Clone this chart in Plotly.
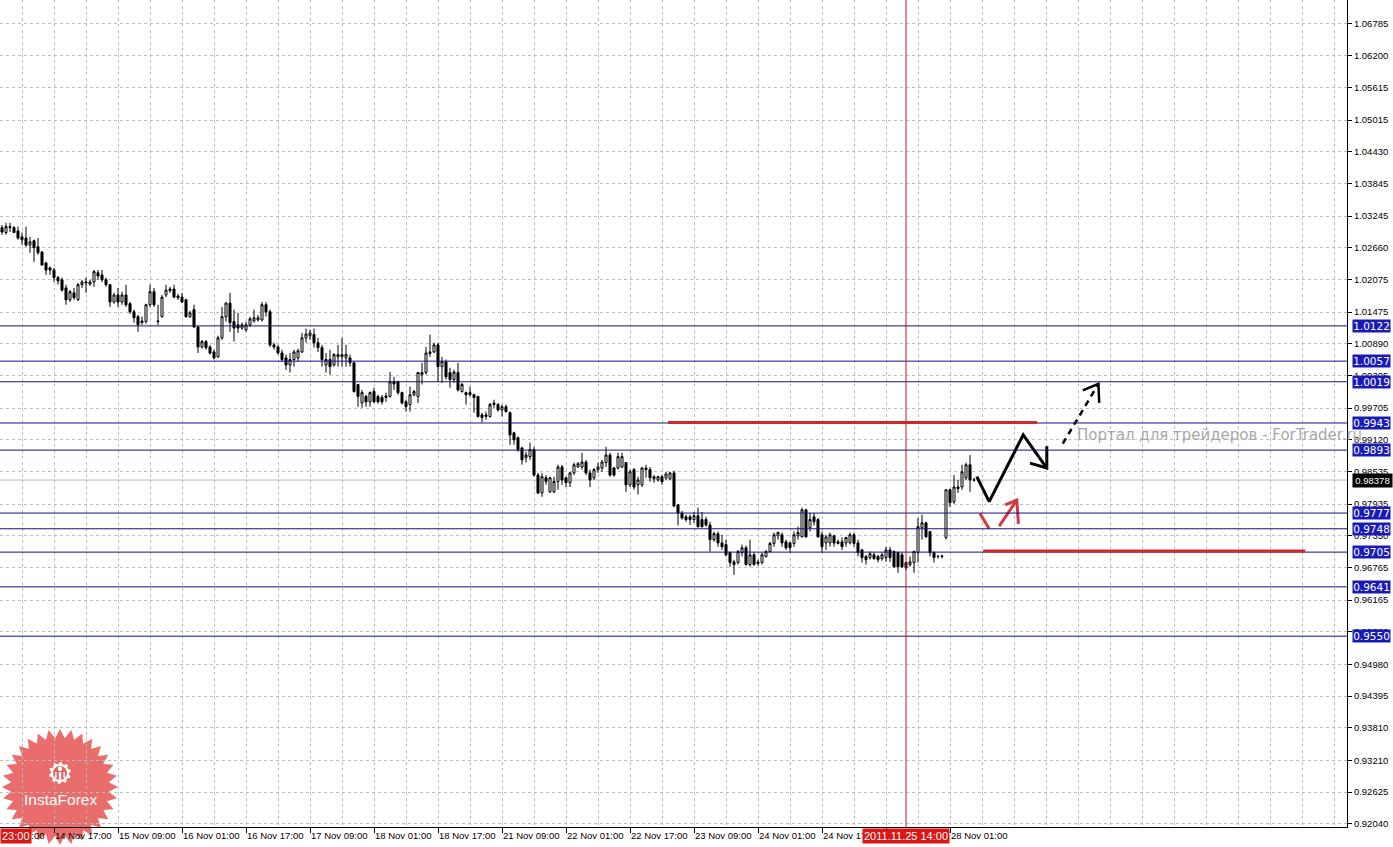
import math
import plotly.graph_objects as go

# ---------------- data (hourly bars, index 0 = first visible bar) ----------------
opens = [
    1.0303, 1.0294, 1.0305, 1.0303, 1.0297, 1.0286, 1.0284, 1.0271, 1.0279, 1.0268,
    1.0258, 1.0238, 1.0229, 1.0225, 1.0211, 1.0207, 1.0192, 1.0170, 1.0183, 1.0170,
    1.0198, 1.0201, 1.0199, 1.0203, 1.0220, 1.0216, 1.0207, 1.0198, 1.0166, 1.0179,
    1.0166, 1.0179, 1.0163, 1.0148, 1.0139, 1.0128, 1.0130, 1.0161, 1.0185, 1.0130,
    1.0139, 1.0179, 1.0187, 1.0190, 1.0177, 1.0175, 1.0170, 1.0139, 1.0152, 1.0120,
    1.0083, 1.0093, 1.0083, 1.0074, 1.0065, 1.0100, 1.0139, 1.0164, 1.0130, 1.0124,
    1.0118, 1.0115, 1.0124, 1.0131, 1.0133, 1.0133, 1.0161, 1.0148, 1.0087, 1.0083,
    1.0072, 1.0063, 1.0050, 1.0060, 1.0063, 1.0074, 1.0100, 1.0104, 1.0106, 1.0091,
    1.0082, 1.0050, 1.0060, 1.0050, 1.0065, 1.0065, 1.0063, 1.0063, 1.0054, 1.0014,
    0.9980, 0.9992, 0.9982, 1.0001, 0.9992, 0.9990, 0.9990, 0.9992, 1.0019, 1.0019,
    0.9999, 0.9982, 0.9977, 0.9995, 0.9992, 1.0032, 1.0036, 1.0071, 1.0074, 1.0087,
    1.0047, 1.0056, 1.0036, 1.0023, 1.0036, 1.0001, 0.9999, 0.9995, 0.9995, 0.9992,
    0.9958, 0.9955, 0.9955, 0.9980, 0.9977, 0.9967, 0.9973, 0.9962, 0.9925, 0.9916,
    0.9897, 0.9879, 0.9881, 0.9894, 0.9847, 0.9814, 0.9842, 0.9816, 0.9816, 0.9835,
    0.9862, 0.9842, 0.9833, 0.9851, 0.9862, 0.9862, 0.9871, 0.9851, 0.9842, 0.9857,
    0.9860, 0.9870, 0.9884, 0.9860, 0.9860, 0.9862, 0.9870, 0.9829, 0.9857, 0.9829,
    0.9829, 0.9857, 0.9857, 0.9840, 0.9838, 0.9844, 0.9842, 0.9840, 0.9851, 0.9792,
    0.9777, 0.9770, 0.9770, 0.9765, 0.9772, 0.9765, 0.9765, 0.9755, 0.9728, 0.9739,
    0.9722, 0.9719, 0.9704, 0.9687, 0.9686, 0.9704, 0.9713, 0.9682, 0.9700, 0.9687,
    0.9686, 0.9697, 0.9706, 0.9721, 0.9735, 0.9737, 0.9724, 0.9722, 0.9721, 0.9735,
    0.9733, 0.9783, 0.9750, 0.9770, 0.9765, 0.9737, 0.9722, 0.9722, 0.9735, 0.9724,
    0.9724, 0.9722, 0.9722, 0.9737, 0.9722, 0.9709, 0.9697, 0.9695, 0.9700, 0.9697,
    0.9693, 0.9695, 0.9709, 0.9706, 0.9704, 0.9700, 0.9686, 0.9682, 0.9686, 0.9704,
    0.9750, 0.9759, 0.9743, 0.9704, 0.9697, 0.9697, 0.9732, 0.9820, 0.9798, 0.9825,
    0.9825, 0.9842, 0.9866, 0.9838,
]
highs = [
    1.0308, 1.0312, 1.0312, 1.0306, 1.0305, 1.0294, 1.0305, 1.0286, 1.0281, 1.0284,
    1.0260, 1.0240, 1.0231, 1.0229, 1.0214, 1.0211, 1.0198, 1.0188, 1.0192, 1.0201,
    1.0207, 1.0211, 1.0207, 1.0225, 1.0225, 1.0225, 1.0211, 1.0199, 1.0183, 1.0192,
    1.0185, 1.0198, 1.0166, 1.0152, 1.0142, 1.0139, 1.0163, 1.0198, 1.0192, 1.0161,
    1.0179, 1.0198, 1.0194, 1.0198, 1.0181, 1.0183, 1.0172, 1.0150, 1.0161, 1.0122,
    1.0096, 1.0096, 1.0087, 1.0078, 1.0104, 1.0157, 1.0166, 1.0183, 1.0152, 1.0146,
    1.0128, 1.0130, 1.0139, 1.0152, 1.0142, 1.0166, 1.0166, 1.0152, 1.0091, 1.0087,
    1.0078, 1.0069, 1.0072, 1.0078, 1.0080, 1.0109, 1.0117, 1.0115, 1.0117, 1.0100,
    1.0087, 1.0072, 1.0078, 1.0072, 1.0087, 1.0100, 1.0087, 1.0069, 1.0056, 1.0014,
    1.0004, 0.9995, 1.0001, 1.0008, 0.9995, 0.9995, 0.9999, 1.0037, 1.0028, 1.0021,
    1.0001, 0.9986, 1.0010, 1.0004, 1.0037, 1.0054, 1.0083, 1.0106, 1.0091, 1.0091,
    1.0065, 1.0060, 1.0045, 1.0041, 1.0054, 1.0017, 1.0001, 1.0010, 0.9997, 0.9993,
    0.9962, 0.9964, 0.9980, 0.9986, 0.9980, 0.9977, 0.9977, 0.9964, 0.9927, 0.9918,
    0.9899, 0.9890, 0.9907, 0.9899, 0.9851, 0.9851, 0.9847, 0.9844, 0.9844, 0.9866,
    0.9866, 0.9844, 0.9853, 0.9870, 0.9871, 0.9888, 0.9875, 0.9857, 0.9860, 0.9870,
    0.9875, 0.9899, 0.9888, 0.9862, 0.9888, 0.9888, 0.9871, 0.9857, 0.9860, 0.9844,
    0.9862, 0.9866, 0.9862, 0.9847, 0.9846, 0.9847, 0.9853, 0.9853, 0.9855, 0.9794,
    0.9781, 0.9774, 0.9774, 0.9779, 0.9787, 0.9779, 0.9770, 0.9761, 0.9743, 0.9743,
    0.9737, 0.9728, 0.9706, 0.9691, 0.9709, 0.9719, 0.9717, 0.9728, 0.9704, 0.9691,
    0.9704, 0.9709, 0.9724, 0.9741, 0.9743, 0.9741, 0.9728, 0.9724, 0.9743, 0.9752,
    0.9787, 0.9785, 0.9777, 0.9777, 0.9768, 0.9743, 0.9737, 0.9741, 0.9737, 0.9728,
    0.9732, 0.9733, 0.9741, 0.9741, 0.9728, 0.9711, 0.9700, 0.9706, 0.9704, 0.9700,
    0.9704, 0.9715, 0.9715, 0.9708, 0.9706, 0.9704, 0.9687, 0.9697, 0.9708, 0.9768,
    0.9774, 0.9761, 0.9744, 0.9706, 0.9700, 0.9700, 0.9820, 0.9822, 0.9847, 0.9838,
    0.9866, 0.9870, 0.9884, 0.9842,
]
lows = [
    1.0290, 1.0290, 1.0295, 1.0294, 1.0281, 1.0271, 1.0268, 1.0257, 1.0240, 1.0253,
    1.0234, 1.0216, 1.0216, 1.0203, 1.0198, 1.0185, 1.0161, 1.0166, 1.0170, 1.0168,
    1.0192, 1.0183, 1.0196, 1.0194, 1.0207, 1.0203, 1.0194, 1.0157, 1.0163, 1.0157,
    1.0161, 1.0157, 1.0144, 1.0128, 1.0111, 1.0124, 1.0126, 1.0157, 1.0157, 1.0124,
    1.0137, 1.0175, 1.0183, 1.0174, 1.0170, 1.0164, 1.0137, 1.0137, 1.0118, 1.0072,
    1.0080, 1.0078, 1.0069, 1.0060, 1.0063, 1.0096, 1.0130, 1.0111, 1.0093, 1.0109,
    1.0115, 1.0111, 1.0120, 1.0128, 1.0130, 1.0130, 1.0139, 1.0083, 1.0078, 1.0069,
    1.0056, 1.0041, 1.0036, 1.0047, 1.0056, 1.0072, 1.0091, 1.0096, 1.0082, 1.0074,
    1.0047, 1.0036, 1.0032, 1.0047, 1.0047, 1.0047, 1.0047, 1.0047, 0.9999, 0.9973,
    0.9971, 0.9973, 0.9973, 0.9980, 0.9979, 0.9977, 0.9982, 0.9990, 1.0004, 0.9995,
    0.9977, 0.9964, 0.9964, 0.9992, 0.9980, 1.0014, 1.0032, 1.0065, 1.0072, 1.0019,
    1.0017, 1.0023, 1.0008, 1.0017, 1.0001, 0.9999, 0.9977, 0.9992, 0.9962, 0.9953,
    0.9944, 0.9949, 0.9953, 0.9971, 0.9964, 0.9955, 0.9962, 0.9903, 0.9903, 0.9890,
    0.9866, 0.9870, 0.9875, 0.9844, 0.9812, 0.9807, 0.9829, 0.9814, 0.9814, 0.9820,
    0.9829, 0.9825, 0.9825, 0.9847, 0.9860, 0.9857, 0.9847, 0.9825, 0.9838, 0.9851,
    0.9853, 0.9862, 0.9844, 0.9844, 0.9857, 0.9860, 0.9816, 0.9825, 0.9820, 0.9811,
    0.9825, 0.9842, 0.9835, 0.9833, 0.9835, 0.9829, 0.9838, 0.9838, 0.9788, 0.9754,
    0.9765, 0.9761, 0.9755, 0.9759, 0.9750, 0.9750, 0.9752, 0.9706, 0.9724, 0.9715,
    0.9709, 0.9697, 0.9678, 0.9663, 0.9682, 0.9697, 0.9680, 0.9678, 0.9680, 0.9680,
    0.9682, 0.9695, 0.9704, 0.9715, 0.9728, 0.9715, 0.9709, 0.9704, 0.9715, 0.9728,
    0.9732, 0.9732, 0.9743, 0.9754, 0.9732, 0.9704, 0.9709, 0.9715, 0.9715, 0.9719,
    0.9709, 0.9715, 0.9719, 0.9715, 0.9697, 0.9686, 0.9682, 0.9691, 0.9691, 0.9686,
    0.9689, 0.9687, 0.9687, 0.9676, 0.9667, 0.9676, 0.9672, 0.9678, 0.9667, 0.9686,
    0.9728, 0.9732, 0.9697, 0.9686, 0.9693, 0.9693, 0.9728, 0.9788, 0.9794, 0.9814,
    0.9820, 0.9838, 0.9816, 0.9835,
]
closes = [
    1.0295, 1.0305, 1.0303, 1.0294, 1.0284, 1.0281, 1.0271, 1.0277, 1.0266, 1.0257,
    1.0234, 1.0225, 1.0225, 1.0211, 1.0205, 1.0188, 1.0170, 1.0185, 1.0174, 1.0198,
    1.0203, 1.0203, 1.0203, 1.0222, 1.0214, 1.0207, 1.0198, 1.0166, 1.0179, 1.0166,
    1.0179, 1.0161, 1.0148, 1.0137, 1.0124, 1.0131, 1.0161, 1.0185, 1.0161, 1.0131,
    1.0175, 1.0188, 1.0190, 1.0175, 1.0174, 1.0166, 1.0139, 1.0146, 1.0120, 1.0083,
    1.0093, 1.0082, 1.0072, 1.0063, 1.0100, 1.0139, 1.0164, 1.0128, 1.0118, 1.0118,
    1.0124, 1.0124, 1.0135, 1.0137, 1.0137, 1.0161, 1.0148, 1.0087, 1.0083, 1.0072,
    1.0060, 1.0050, 1.0060, 1.0074, 1.0076, 1.0100, 1.0107, 1.0109, 1.0091, 1.0082,
    1.0060, 1.0060, 1.0047, 1.0069, 1.0069, 1.0069, 1.0069, 1.0054, 1.0001, 0.9992,
    0.9999, 0.9982, 0.9999, 0.9982, 0.9982, 0.9982, 0.9993, 1.0019, 1.0015, 0.9999,
    0.9980, 0.9973, 0.9995, 1.0001, 1.0036, 1.0036, 1.0072, 1.0074, 1.0087, 1.0047,
    1.0056, 1.0028, 1.0023, 1.0037, 1.0004, 1.0014, 0.9995, 0.9999, 0.9990, 0.9955,
    0.9953, 0.9958, 0.9977, 0.9977, 0.9967, 0.9973, 0.9964, 0.9921, 0.9912, 0.9894,
    0.9875, 0.9884, 0.9894, 0.9847, 0.9814, 0.9844, 0.9835, 0.9842, 0.9835, 0.9862,
    0.9838, 0.9833, 0.9851, 0.9866, 0.9868, 0.9871, 0.9851, 0.9838, 0.9857, 0.9862,
    0.9871, 0.9884, 0.9847, 0.9847, 0.9881, 0.9881, 0.9829, 0.9853, 0.9825, 0.9838,
    0.9860, 0.9860, 0.9842, 0.9844, 0.9844, 0.9835, 0.9849, 0.9851, 0.9790, 0.9777,
    0.9768, 0.9765, 0.9765, 0.9772, 0.9752, 0.9752, 0.9755, 0.9728, 0.9739, 0.9722,
    0.9715, 0.9700, 0.9686, 0.9682, 0.9706, 0.9713, 0.9682, 0.9700, 0.9682, 0.9684,
    0.9700, 0.9706, 0.9721, 0.9737, 0.9741, 0.9722, 0.9713, 0.9713, 0.9737, 0.9741,
    0.9783, 0.9733, 0.9765, 0.9761, 0.9733, 0.9715, 0.9733, 0.9737, 0.9722, 0.9721,
    0.9715, 0.9732, 0.9737, 0.9721, 0.9704, 0.9695, 0.9691, 0.9702, 0.9693, 0.9691,
    0.9700, 0.9709, 0.9695, 0.9678, 0.9678, 0.9678, 0.9676, 0.9687, 0.9706, 0.9752,
    0.9759, 0.9733, 0.9704, 0.9695, 0.9697, 0.9698, 0.9820, 0.9796, 0.9825, 0.9822,
    0.9853, 0.9866, 0.9838, 0.9838,
]
bars = list(range(len(opens)))

x_tick_pos = [13, 29, 45, 61, 77, 93, 109, 125, 141, 157, 173, 189, 205, 221, 237]
x_tick_labels = ["14 Nov 17:00", "15 Nov 09:00", "16 Nov 01:00", "16 Nov 17:00",
                 "17 Nov 09:00", "18 Nov 01:00", "18 Nov 17:00", "21 Nov 09:00",
                 "22 Nov 01:00", "22 Nov 17:00", "23 Nov 09:00", "24 Nov 01:00",
                 "24 Nov 17:00", "25 Nov 09:00", "28 Nov 01:00"]
y_ticks = [1.06785, 1.06200, 1.05615, 1.05015, 1.04430, 1.03845, 1.03245, 1.02660,
           1.02075, 1.01475, 1.00890, 1.00305, 0.99705, 0.99120, 0.98535, 0.97935,
           0.97350, 0.96765, 0.96165, 0.95580, 0.94980, 0.94395, 0.93810, 0.93210,
           0.92625, 0.92040]
levels = [1.0122, 1.0057, 1.0019, 0.9943, 0.9893, 0.9777, 0.9748, 0.9705, 0.9641, 0.9550]
last_price = 0.98378
marker_bar = 226
marker_label = "2011.11.25 14:00"
red_level_bars = [(166.5, 258.8), (245.3, 325.8)]
red_level_prices = [0.9944, 0.9707]

# forecast drawings (bar index, price)
zig_x = [243.7, 246.8, 255.3, 261.2]
zig_y = [0.9844, 0.9798, 0.9921, 0.9860]
zig_head_x = [257.0, 261.2, 261.2]
zig_head_y = [0.9869, 0.9860, 0.9900]
dash_x = [265.2, 274.1]
dash_y = [0.9905, 1.0015]
dash_head_x = [270.2, 274.1, 274.3]
dash_head_y = [1.0003, 1.0015, 0.9980]
red1_x = [244.5, 246.8]
red1_y = [0.9776, 0.9748]
red2_x = [249.3, 253.7]
red2_y = [0.9753, 0.9801]
red2_head_x = [250.8, 253.7, 254.1]
red2_head_y = [0.9792, 0.9801, 0.9757]

# ---------------- figure ----------------
W, H = 1393, 847
ML, MR, MT, MB = 0, 46, 0, 20
PW, PH = W - ML - MR, H - MT - MB
GRID = "#BEBEBE"
NAVY = "#121278"
LABEL_BLUE = "#1A1AB8"
RED = "#CF2A2A"

fig = go.Figure()
fig.add_trace(go.Candlestick(
    x=bars, open=opens, high=highs, low=lows, close=closes,
    increasing=dict(line=dict(color="black", width=1), fillcolor="white"),
    decreasing=dict(line=dict(color="black", width=1), fillcolor="black"),
    whiskerwidth=0, showlegend=False, hoverinfo="skip"))

def add_line(xs, ys, color, width, dash="solid"):
    fig.add_trace(go.Scatter(x=xs, y=ys, mode="lines", showlegend=False, hoverinfo="skip",
                             line=dict(color=color, width=width, dash=dash)))

add_line(zig_x, zig_y, "black", 3)
add_line(zig_head_x, zig_head_y, "black", 3)
add_line(dash_x, dash_y, "black", 2.5, "6px,5px")
add_line(dash_head_x, dash_head_y, "black", 2.5)
add_line(red1_x, red1_y, "#D03A45", 3)
add_line(red2_x, red2_y, "#D03A45", 3)
add_line(red2_head_x, red2_head_y, "#D03A45", 3)

shapes = []
# InstaForex starburst logo (decoration, pixel based)
def px2paper(px, py):
    return (px - ML) / PW, (MT + PH - py) / PH

cx, cy, R1, R2, n = 60, 787, 58, 49, 32
pts = []
for k in range(2 * n):
    a = math.pi * k / n
    rr = R1 if k % 2 == 0 else R2
    pts.append(px2paper(cx + rr * math.sin(a), cy - rr * math.cos(a)))
star = "M " + " L ".join(f"{x:.5f},{y:.5f}" for x, y in pts) + " Z"
shapes.append(dict(type="path", path=star, xref="paper", yref="paper",
                   fillcolor="rgba(226,52,52,0.72)", line=dict(width=0), layer="below"))
# gear icon
gx, gy = 60, 773
gpts = []
for k in range(40):
    a = 2 * math.pi * k / 40
    rr = 11 if (k // 2) % 2 == 0 else 9
    gpts.append(px2paper(gx + rr * math.sin(a), gy - rr * math.cos(a)))
gear = "M " + " L ".join(f"{x:.5f},{y:.5f}" for x, y in gpts) + " Z"
shapes.append(dict(type="path", path=gear, xref="paper", yref="paper",
                   fillcolor="white", line=dict(width=0), layer="above"))
c0 = px2paper(gx - 7, gy + 7); c1 = px2paper(gx + 7, gy - 7)
shapes.append(dict(type="circle", xref="paper", yref="paper", x0=c0[0], y0=c0[1], x1=c1[0], y1=c1[1],
                   fillcolor="#E46060", line=dict(width=0), layer="above"))
h0 = px2paper(gx - 2.2, gy - 2); h1 = px2paper(gx + 2.2, gy - 6.4)
shapes.append(dict(type="circle", xref="paper", yref="paper", x0=h0[0], y0=h0[1], x1=h1[0], y1=h1[1],
                   fillcolor="white", line=dict(width=0), layer="above"))
for (bx0, bx1, by0, by1) in [(gx - 1.2, gx + 1.2, gy - 1, gy + 7), (gx - 5, gx - 3.4, gy - 1, gy + 5),
                             (gx + 3.4, gx + 5, gy - 1, gy + 5)]:
    p0 = px2paper(bx0, by1); p1 = px2paper(bx1, by0)
    shapes.append(dict(type="rect", xref="paper", yref="paper", x0=p0[0], y0=p0[1], x1=p1[0], y1=p1[1],
                       fillcolor="white", line=dict(width=0), layer="above"))

# support / resistance levels
for v in levels:
    shapes.append(dict(type="line", xref="paper", x0=0, x1=1, yref="y", y0=v, y1=v,
                       line=dict(color=NAVY, width=1), layer="above"))
shapes.append(dict(type="line", xref="paper", x0=0, x1=1, yref="y", y0=last_price, y1=last_price,
                   line=dict(color="#B8B8B8", width=1), layer="below"))
shapes.append(dict(type="line", xref="x", x0=marker_bar, x1=marker_bar, yref="paper", y0=0, y1=1,
                   line=dict(color="#B01E1E", width=1), layer="above"))
for (xa, xb), v in zip(red_level_bars, red_level_prices):
    shapes.append(dict(type="line", xref="x", x0=xa, x1=xb, yref="y", y0=v, y1=v,
                       line=dict(color=RED, width=3), layer="above"))

annotations = []
annotations.append(dict(text="Портал для трейдеров - ForTrader.ru", x=268.3, y=0.9920, xref="x", yref="y",
                        xanchor="left", yanchor="middle", showarrow=False,
                        font=dict(family="DejaVu Sans", size=15, color="#A8A8A8")))
for v in levels:
    annotations.append(dict(text=f"{v:.4f}", x=1, xref="paper", xshift=5, y=v, yref="y",
                            xanchor="left", yanchor="middle", showarrow=False, width=37, align="center",
                            bgcolor=LABEL_BLUE, borderpad=0,
                            font=dict(family="DejaVu Sans", size=10.5, color="white")))
annotations.append(dict(text=f"{last_price:.5f}", x=1, xref="paper", xshift=5, y=last_price, yref="y",
                        xanchor="left", yanchor="middle", showarrow=False, width=37, align="center",
                        bgcolor="black", borderpad=1,
                        font=dict(family="Liberation Sans", size=9.5, color="white")))
annotations.append(dict(text="14 Nov 01:00", x=47 / PW, xref="paper", y=0, yref="paper", yshift=-1,
                        xanchor="right", yanchor="top", showarrow=False,
                        font=dict(family="Liberation Sans", size=9.5, color="black")))
annotations.append(dict(text="23:00", x=0, xref="paper", y=0, yref="paper", yshift=-1,
                        xanchor="left", yanchor="top", showarrow=False, bgcolor="#DA1616", borderpad=1,
                        font=dict(family="Liberation Sans", size=11, color="white")))
annotations.append(dict(text=marker_label, x=marker_bar, xref="x", y=0, yref="paper", yshift=-1,
                        xanchor="center", yanchor="top", showarrow=False, bgcolor="#DA1616", borderpad=1,
                        font=dict(family="Liberation Sans", size=11, color="white")))
lx, ly = px2paper(60, 799)
annotations.append(dict(text="InstaForex", x=lx, y=ly, xref="paper", yref="paper",
                        xanchor="center", yanchor="middle", showarrow=False,
                        font=dict(family="Liberation Sans", size=15.5, color="white")))

fig.update_layout(
    width=W, height=H, margin=dict(l=ML, r=MR, t=MT, b=MB, autoexpand=False),
    paper_bgcolor="white", plot_bgcolor="rgba(0,0,0,0)",
    showlegend=False, hovermode=False, boxgap=0.28,
    shapes=shapes, annotations=annotations,
    xaxis=dict(range=[-0.5, 336.25], rangeslider=dict(visible=False), fixedrange=True,
               automargin=False, tickangle=0,
               showline=True, linecolor="black", linewidth=1, zeroline=False,
               tickmode="array", tickvals=x_tick_pos, ticktext=x_tick_labels,
               ticks="outside", ticklen=5, tickcolor="black", tickwidth=1,
               ticklabelposition="outside right",
               tickfont=dict(family="Liberation Sans", size=9.5, color="black"),
               showgrid=True, gridcolor=GRID, gridwidth=1, griddash="3px,3px",
               minor=dict(tick0=5, dtick=8, showgrid=True, gridcolor=GRID, gridwidth=1,
                          griddash="3px,3px", ticks="")),
    yaxis=dict(range=[0.91983, 1.07227], side="right", fixedrange=True, automargin=False,
               showline=True, linecolor="black", linewidth=1, zeroline=False,
               tickmode="array", tickvals=y_ticks, ticktext=[f"{v:.5f}" for v in y_ticks],
               ticks="outside", ticklen=4, tickcolor="black",
               tickfont=dict(family="Liberation Sans", size=9.5, color="black"),
               showgrid=True, gridcolor=GRID, gridwidth=1, griddash="3px,3px"),
)

fig.write_html("out.html", config={"displayModeBar": False},
               post_script="document.body.style.margin='0';document.body.style.overflow='hidden';")
